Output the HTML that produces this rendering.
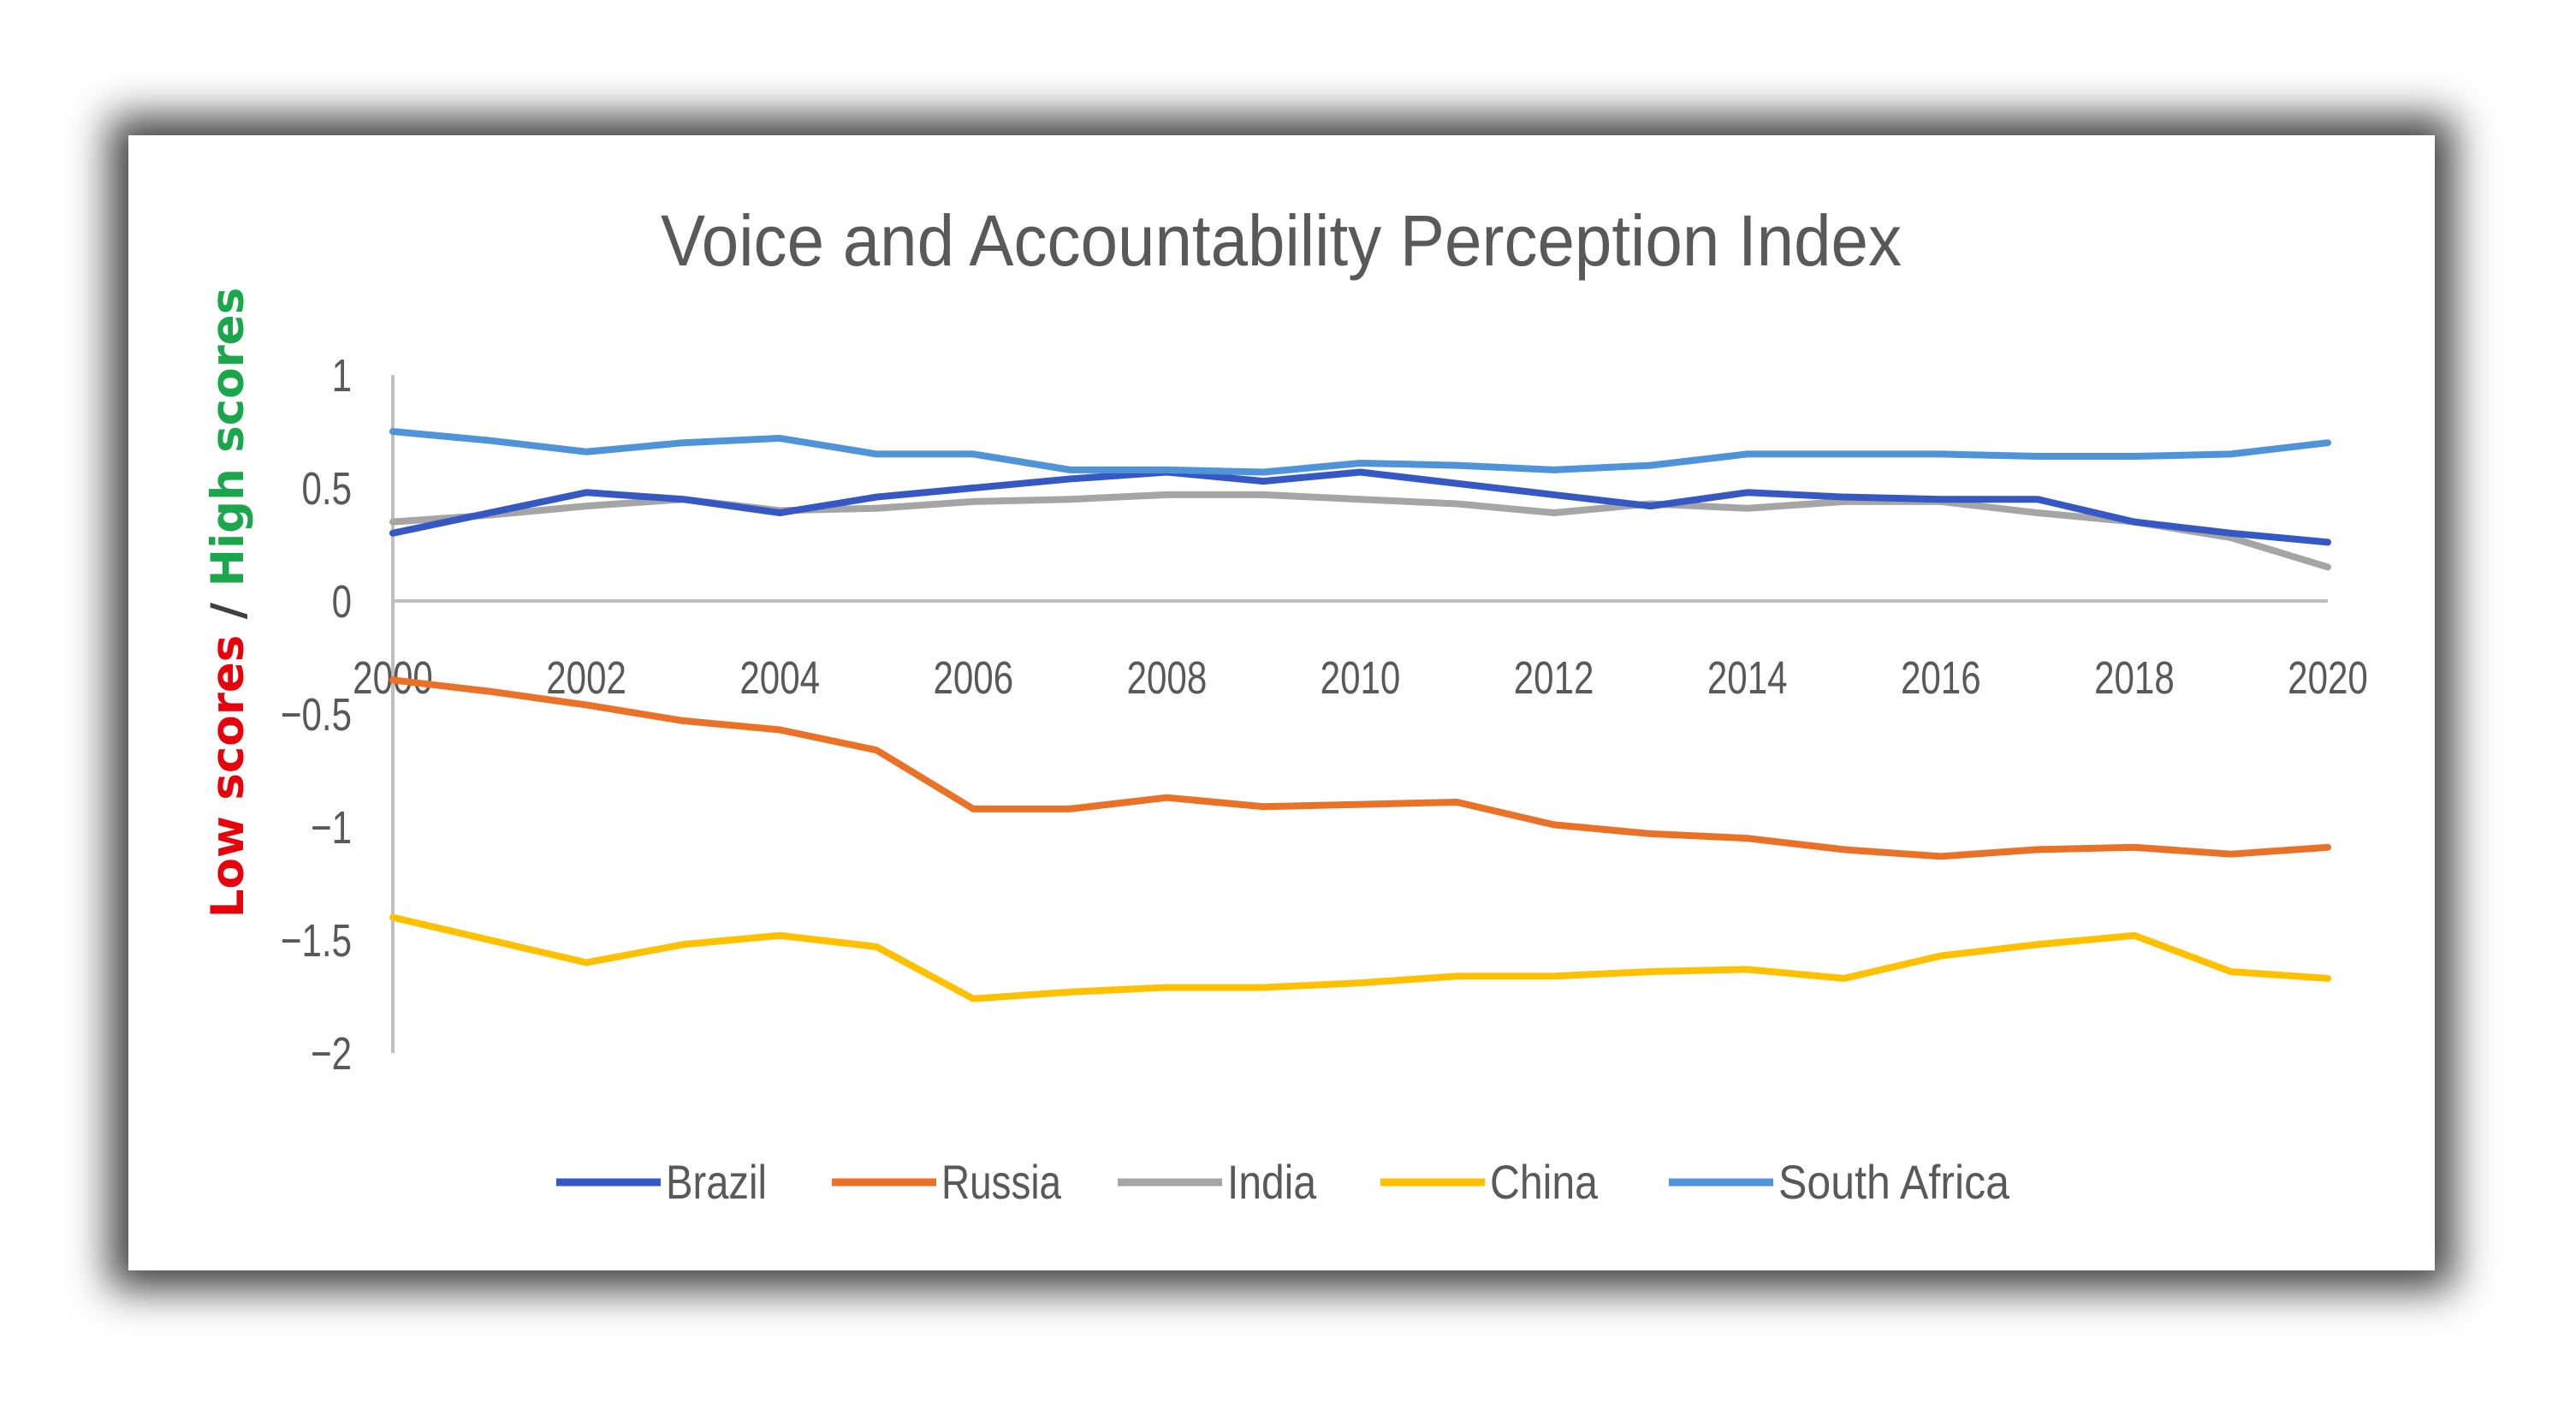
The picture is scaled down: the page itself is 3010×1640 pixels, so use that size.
<!DOCTYPE html>
<html><head><meta charset="utf-8">
<style>
html,body{margin:0;padding:0;background:#fff;width:3010px;height:1640px;overflow:hidden}
#card{position:absolute;left:150px;top:158px;width:2695px;height:1326px;background:#fff;box-shadow:0 0 45px 22px rgba(0,0,0,0.75)}
svg{position:absolute;left:0;top:0}
text{font-family:"Liberation Sans",sans-serif;fill:#595959}
</style></head><body>
<div id="card"></div>
<svg id="chart" width="3010" height="1640"></svg>
<script>
const years=[2000,2001,2002,2003,2004,2005,2006,2007,2008,2009,2010,2011,2012,2013,2014,2015,2016,2017,2018,2019,2020];
const xTicks=[2000,2002,2004,2006,2008,2010,2012,2014,2016,2018,2020];
const yTicks=[1,0.5,0,-0.5,-1,-1.5,-2];
const yTickLabels=["1","0.5","0","\u22120.5","\u22121","\u22121.5","\u22122"];
const seriesNames=["Brazil","Russia","India","China","South Africa"];
const brazil=[0.30,0.39,0.48,0.45,0.39,0.46,0.50,0.54,0.57,0.53,0.57,0.52,0.47,0.42,0.48,0.46,0.45,0.45,0.35,0.30,0.26];
const russia=[-0.35,-0.40,-0.46,-0.53,-0.57,-0.66,-0.92,-0.92,-0.87,-0.91,-0.90,-0.89,-0.99,-1.03,-1.05,-1.10,-1.13,-1.10,-1.09,-1.12,-1.09];
const india=[0.35,0.38,0.42,0.45,0.40,0.41,0.44,0.45,0.47,0.47,0.45,0.43,0.39,0.43,0.41,0.44,0.44,0.39,0.35,0.28,0.15];
const china=[-1.40,-1.50,-1.60,-1.52,-1.48,-1.53,-1.76,-1.73,-1.71,-1.71,-1.69,-1.66,-1.66,-1.64,-1.63,-1.67,-1.57,-1.52,-1.48,-1.64,-1.67];
const southAfrica=[0.75,0.71,0.66,0.70,0.72,0.65,0.65,0.58,0.58,0.57,0.61,0.60,0.58,0.60,0.65,0.65,0.65,0.64,0.64,0.65,0.70];

const NS="http://www.w3.org/2000/svg";
const svg=document.getElementById('chart');
const X0=459,X1=2720,Y1=438,Y0=702;
function xs(v){return X0+(v-2000)/20*(X1-X0);}
function ys(v){return Y0-v*(Y0-Y1);}
function mk(tag,attrs,parent){const e=document.createElementNS(NS,tag);for(const k in attrs)e.setAttribute(k,attrs[k]);(parent||svg).appendChild(e);return e;}

const title=mk('text',{x:1497,y:310,'text-anchor':'middle','font-size':84,textLength:1450,lengthAdjust:'spacingAndGlyphs'});
title.textContent='Voice and Accountability Perception Index';



const ya=mk('line',{x1:X0,y1:ys(1),x2:X0,y2:ys(-2),stroke:'#bfbfbf','stroke-width':4});


const xa=mk('line',{x1:X0,y1:ys(0),x2:X1,y2:ys(0),stroke:'#bfbfbf','stroke-width':4});



yTicks.forEach((v,i)=>{
  const t=mk('text',{x:0,y:0,'text-anchor':'end','font-size':54,transform:`translate(411,${ys(v)+19}) scale(0.78,1)`});
  t.textContent=yTickLabels[i];
  
  
});
xTicks.forEach(v=>{
  const t=mk('text',{x:0,y:0,'text-anchor':'middle','font-size':54,transform:`translate(${xs(v)},${ys(0)+108}) scale(0.78,1)`});
  t.textContent=String(v);
  
  
});

const yt=mk('text',{x:0,y:0,'text-anchor':'middle','font-size':53,'font-weight':'bold',transform:'translate(284,704) rotate(-90)',style:'font-family:"DejaVu Sans",sans-serif'});


const s1=mk('tspan',{},yt);s1.textContent='Low scores ';s1.style.fill='#e8000b';
const s2=mk('tspan',{},yt);s2.textContent='/ ';s2.style.fill='#404040';
const s3=mk('tspan',{},yt);s3.textContent='High scores';s3.style.fill='#1aa64a';

const colors=['#3558c4','#ea7126','#a5a5a5','#ffc000','#4f93d8'];
const data=[brazil,russia,india,china,southAfrica];
const order=[2,0,4,1,3];
order.forEach(si=>{
  const pts=data[si].map((v,i)=>xs(years[i])+','+ys(v)).join(' ');
  const p=mk('polyline',{points:pts,fill:'none',stroke:colors[si],'stroke-width':8,'stroke-linejoin':'round','stroke-linecap':'round'});
  
  
});

const lx=[650,972,1306,1613,1950];
const lw=[118,140,104,126,270];
seriesNames.forEach((n,i)=>{
  const g=mk('g',{});
  
  
  mk('line',{x1:lx[i],y1:1381,x2:lx[i]+122,y2:1381,stroke:colors[i],'stroke-width':9},g);
  const t=mk('text',{x:lx[i]+128,y:1400,'font-size':56,textLength:lw[i],lengthAdjust:'spacingAndGlyphs'},g);
  t.textContent=n;
});
</script>
</body></html>
